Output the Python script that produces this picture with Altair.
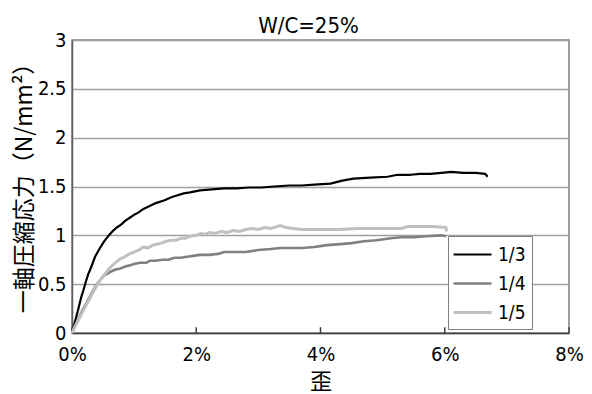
import altair as alt
import pandas as pd

# ---- data (strain %, stress N/mm2) ----
s13_x = [0, 0.05, 0.10, 0.15, 0.18, 0.22, 0.26, 0.30, 0.37, 0.45, 0.52, 0.58, 0.65, 0.72, 0.79, 0.86,
         0.93, 1.00, 1.06, 1.15, 1.25, 1.35, 1.49, 1.60, 1.70, 1.80, 1.90, 2.06, 2.25, 2.45, 2.65, 2.85,
         3.05, 3.25, 3.50, 3.70, 3.90, 4.16, 4.35, 4.53, 4.80, 5.08, 5.24, 5.45, 5.60, 5.77, 5.95, 6.10,
         6.30, 6.50, 6.65, 6.69]
s13_y = [0, 0.12, 0.24, 0.37, 0.43, 0.52, 0.60, 0.66, 0.78, 0.87, 0.94, 0.99, 1.04, 1.08, 1.11, 1.15,
         1.18, 1.21, 1.23, 1.27, 1.30, 1.33, 1.36, 1.39, 1.41, 1.43, 1.44, 1.46, 1.47, 1.48, 1.48, 1.49,
         1.49, 1.50, 1.51, 1.51, 1.52, 1.53, 1.56, 1.58, 1.59, 1.60, 1.62, 1.62, 1.63, 1.63, 1.64, 1.65,
         1.64, 1.64, 1.63, 1.60]

s14_x = [0, 0.05, 0.10, 0.15, 0.20, 0.26, 0.32, 0.38, 0.45, 0.52, 0.58, 0.63, 0.70, 0.78, 0.85, 0.92,
         1.01, 1.10, 1.20, 1.25, 1.35, 1.45, 1.55, 1.65, 1.75, 1.85, 1.95, 2.06, 2.20, 2.35, 2.45, 2.60,
         2.80, 3.00, 3.20, 3.35, 3.50, 3.70, 3.90, 4.10, 4.32, 4.50, 4.70, 4.90, 5.13, 5.30, 5.50, 5.70,
         5.94, 6.02]
s14_y = [0, 0.07, 0.14, 0.21, 0.27, 0.34, 0.41, 0.48, 0.54, 0.59, 0.61, 0.63, 0.65, 0.66, 0.68, 0.69,
         0.71, 0.72, 0.72, 0.74, 0.74, 0.75, 0.75, 0.77, 0.77, 0.78, 0.79, 0.80, 0.80, 0.81, 0.83, 0.83,
         0.83, 0.85, 0.86, 0.87, 0.87, 0.87, 0.88, 0.90, 0.91, 0.92, 0.94, 0.95, 0.97, 0.98, 0.98, 0.99,
         1.00, 0.99]

s15_x = [0, 0.05, 0.10, 0.15, 0.20, 0.25, 0.30, 0.35, 0.42, 0.50, 0.56, 0.63, 0.70, 0.78, 0.85, 0.92,
         1.01, 1.08, 1.15, 1.22, 1.30, 1.37, 1.44, 1.52, 1.60, 1.68, 1.75, 1.82, 1.90, 2.00, 2.08, 2.14,
         2.22, 2.30, 2.40, 2.50, 2.60, 2.70, 2.80, 2.90, 3.00, 3.10, 3.20, 3.30, 3.35, 3.45, 3.55, 3.70,
         4.00, 4.30, 4.60, 5.00, 5.30, 5.40, 5.80, 6.02, 6.03]
s15_y = [0, 0.07, 0.13, 0.19, 0.25, 0.31, 0.37, 0.43, 0.51, 0.58, 0.63, 0.68, 0.72, 0.76, 0.78, 0.81,
         0.83, 0.85, 0.88, 0.87, 0.90, 0.91, 0.92, 0.94, 0.95, 0.95, 0.97, 0.97, 0.99, 1.00, 1.02, 1.01,
         1.03, 1.02, 1.04, 1.03, 1.05, 1.04, 1.06, 1.07, 1.06, 1.08, 1.07, 1.09, 1.10, 1.08, 1.07, 1.06,
         1.06, 1.06, 1.07, 1.07, 1.07, 1.09, 1.09, 1.08, 1.04]

series_names = ["1/3", "1/4", "1/5"]
series_colors = ["#000000", "#808080", "#c0c0c0"]
series_widths = [2.2, 3, 3.5]

x_ticks = [0, 2, 4, 6, 8]
y_ticks = [0, 0.5, 1, 1.5, 2, 2.5, 3]

rows = []
for name, xs, ys in zip(series_names, [s13_x, s14_x, s15_x], [s13_y, s14_y, s15_y]):
    for i, (a, b) in enumerate(zip(xs, ys)):
        rows.append({"series": name, "strain": a, "stress": b, "order": i})
df = pd.DataFrame(rows)

ticks_df = pd.DataFrame({"strain": x_ticks, "y0": [0] * len(x_ticks), "y1": [0.06] * len(x_ticks)})

NARROW = "DejaVu Sans Condensed, Liberation Sans Narrow, Arial Narrow, Liberation Sans, sans-serif"
CJK = "Noto Sans CJK JP"

xscale = alt.Scale(domain=[0, 8], nice=False, zero=True)
yscale = alt.Scale(domain=[0, 3], nice=False)

lines = alt.Chart(df).mark_line(strokeJoin="round").encode(
    x=alt.X("strain:Q", scale=xscale,
            axis=alt.Axis(values=x_ticks, labelExpr="datum.value + '%'", title="歪",
                          grid=False, ticks=False, labelPadding=11, labelFlush=False,
                          labelFont=NARROW, labelFontSize=20, labelColor="#000",
                          titleFont=CJK, titleFontSize=22, titleFontWeight="normal",
                          titleColor="#000", titlePadding=7,
                          domainColor="#404040", domainWidth=1.5)),
    y=alt.Y("stress:Q", scale=yscale,
            axis=alt.Axis(values=y_ticks, format="~g", title="一軸圧縮応力（N/mm²）",
                          grid=True, gridColor="#a0a0a0", gridWidth=1.5,
                          ticks=False, labelPadding=6, labelFlush=False,
                          labelFont=NARROW, labelFontSize=20, labelColor="#000",
                          titleFont=CJK, titleFontSize=23, titleFontWeight="normal",
                          titleColor="#000", titleAngle=-90, titleX=-48, titleY=142,
                          titleAlign="center", titleBaseline="middle",
                          domainColor="#606060", domainWidth=1.5)),
    color=alt.Color("series:N",
                    scale=alt.Scale(domain=series_names, range=series_colors),
                    legend=alt.Legend(title=None, orient="none", legendX=376, legendY=196,
                                      symbolType="M-2.45,0H1", symbolSize=484, symbolStrokeWidth=3,
                                      symbolOffset=14,
                                      labelFont=NARROW, labelFontSize=19, labelColor="#000",
                                      labelExpr="datum.label + '\u00a0\u00a0'",
                                      rowPadding=6, padding=6, labelOffset=5,
                                      strokeColor="#808080", fillColor="#ffffff")),
    strokeWidth=alt.StrokeWidth("series:N",
                                scale=alt.Scale(domain=series_names, range=series_widths),
                                legend=None),
    order="order:Q",
)

inner_ticks = alt.Chart(ticks_df).mark_rule(color="#404040", strokeWidth=1.5).encode(
    x=alt.X("strain:Q", scale=xscale),
    y=alt.Y("y0:Q", scale=yscale),
    y2="y1:Q",
)

chart = alt.layer(inner_ticks, lines).properties(
    width=497, height=293,
    title=alt.TitleParams("W/C=25%", font=NARROW, fontSize=22, fontWeight="normal",
                          color="#000", anchor="middle", dx=-12, offset=6, dy=14),
    padding={"left": 72, "top": 40, "right": 23, "bottom": 61},
    autosize=alt.AutoSizeParams(type="none"),
    background="#ffffff",
).configure_view(stroke="#808080", strokeWidth=1.5)

chart.save("out.html", embed_options={"renderer": "svg", "actions": False})
